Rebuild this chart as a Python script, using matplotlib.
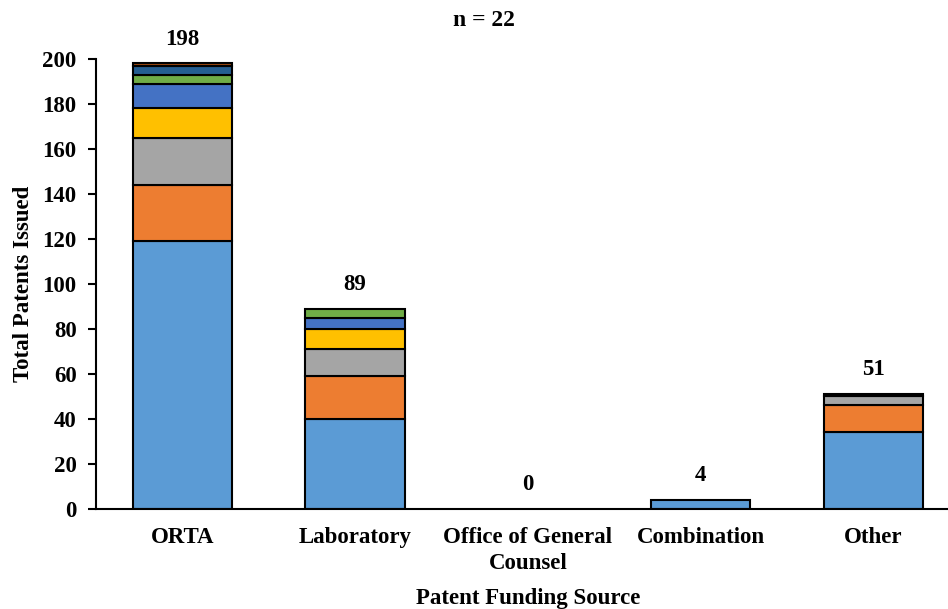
import numpy as np
import matplotlib.pyplot as plt

plt.rcParams["font.family"] = ["Liberation Serif", "DejaVu Serif"]
plt.rcParams["font.weight"] = "bold"

categories = ["ORTA", "Laboratory", "Office of General\nCounsel", "Combination", "Other"]

# stacked segments, bottom to top
seg1 = [119, 40, 0, 4, 34]
seg2 = [25, 19, 0, 0, 12]
seg3 = [21, 12, 0, 0, 4]
seg4 = [13, 9, 0, 0, 1]
seg5 = [11, 5, 0, 0, 0]
seg6 = [4, 4, 0, 0, 0]
seg7 = [4, 0, 0, 0, 0]
seg8 = [1, 0, 0, 0, 0]
totals = [198, 89, 0, 4, 51]

segments = [seg1, seg2, seg3, seg4, seg5, seg6, seg7, seg8]
colors = ["#5B9BD5", "#ED7D31", "#A5A5A5", "#FFC000",
          "#4472C4", "#70AD47", "#255E91", "#9E480E"]

fs = 16.5

fig = plt.figure(figsize=(9.48, 6.09), dpi=100)
ax = fig.add_axes([0.1013, 0.1642, 0.911, 0.739])

x = np.arange(len(categories))
bottom = np.zeros(len(categories))
for vals, c in zip(segments, colors):
    vals = np.array(vals, dtype=float)
    mask = vals > 0
    ax.bar(x[mask], vals[mask], 0.575, bottom=bottom[mask], color=c,
           edgecolor="black", linewidth=1.5)
    bottom += vals

for xi, t in zip(x, totals):
    ax.annotate(str(t), (xi, t), xytext=(0, 10), textcoords="offset points",
                ha="center", va="bottom", fontsize=fs, fontweight="bold")

ax.set_xlim(-0.5, 4.5)
ax.set_ylim(0, 200)
ax.set_yticks(np.arange(0, 201, 20))
ax.set_xticks(x)
ax.set_xticklabels(categories, fontsize=fs, fontweight="bold", linespacing=1.3)
ax.tick_params(axis="x", length=0, pad=13)
ax.tick_params(axis="y", labelsize=fs, length=6, width=1.5, direction="out", pad=8)
for lab in ax.get_yticklabels():
    lab.set_fontweight("bold")

for s in ["top", "right"]:
    ax.spines[s].set_visible(False)
for s in ["left", "bottom"]:
    ax.spines[s].set_linewidth(1.5)

ax.set_ylabel("Total Patents Issued", fontsize=fs, fontweight="bold", labelpad=6)
ax.set_xlabel("Patent Funding Source", fontsize=fs, fontweight="bold", labelpad=10)
fig.text(0.51, 0.966, "n = 22", ha="center", va="center", fontsize=17, fontweight="bold")

fig.savefig("out.png", dpi=100)
